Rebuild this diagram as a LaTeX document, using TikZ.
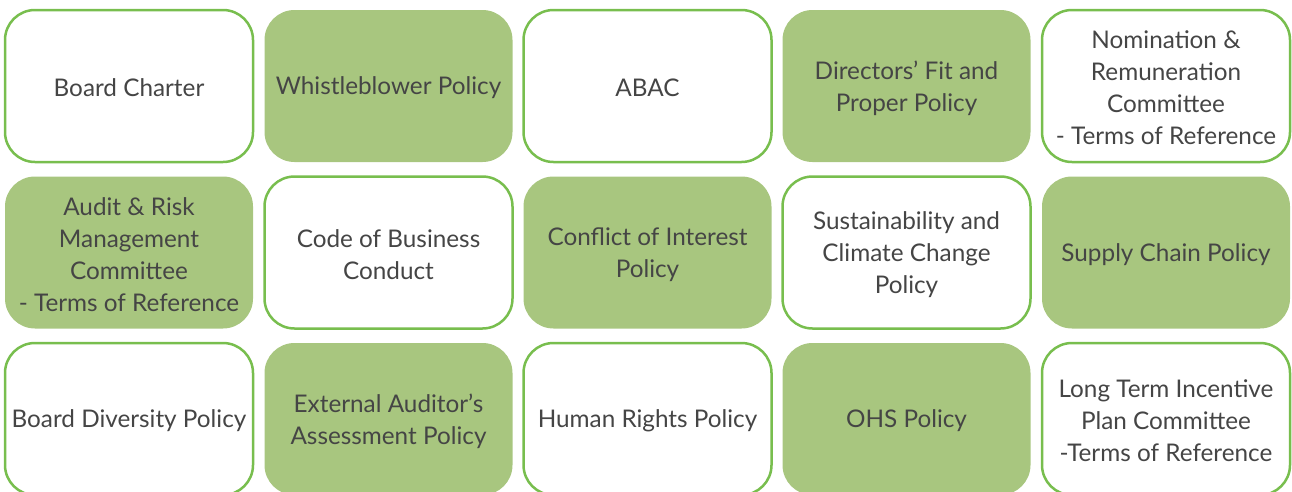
\documentclass[tikz,border=0pt]{standalone}
\usepackage{fontspec}
\setmainfont{Lato}
\definecolor{bordergreen}{HTML}{78BE4E}
\definecolor{fillgreen}{HTML}{A8C67F}
\definecolor{txt}{HTML}{454545}
\begin{document}
\begin{tikzpicture}[x=1pt,y=-1pt,
  cell/.style={rounded corners=30pt,minimum width=248pt,minimum height=152pt,inner sep=0pt,
    anchor=center},
  celltext/.style={align=center,text=txt,font=\fontsize{24.3}{32}\selectfont,inner sep=0pt,yshift=-2pt},
  wbox/.style={cell,draw=bordergreen,line width=2.5pt,fill=white},
  gbox/.style={cell,fill=fillgreen}]
\useasboundingbox (0,0) rectangle (1292,491);
\clip (0,0) rectangle (1292,491);
\node[wbox,label={[celltext]center:{Board Charter}}] (a1) at (129,86) {};
\node[gbox,label={[celltext]center:{Whistleblower Policy}}] (a2) at (388.5,86) {};
\node[wbox,label={[celltext]center:{ABAC}}] (a3) at (647.5,86) {};
\node[gbox,label={[celltext]center:{Directors’ Fit and\\Proper Policy}}] (a4) at (906.5,86) {};
\node[wbox,label={[celltext]center:{Nomination \&\\Remuneration\\Committee\\- Terms of Reference}}] (a5) at (1166,86) {};
\node[gbox,label={[celltext]center:{Audit \& Risk\\Management\\Committee\\- Terms of Reference}}] (b1) at (129,252.5) {};
\node[wbox,label={[celltext]center:{Code of Business\\Conduct}}] (b2) at (388.5,252.5) {};
\node[gbox,label={[celltext]center:{Conflict of Interest\\Policy}}] (b3) at (647.5,252.5) {};
\node[wbox,label={[celltext]center:{Sustainability and\\Climate Change\\Policy}}] (b4) at (906.5,252.5) {};
\node[gbox,label={[celltext]center:{Supply Chain Policy}}] (b5) at (1166,252.5) {};
\node[wbox,label={[celltext]center:{Board Diversity Policy}}] (c1) at (129,419) {};
\node[gbox,label={[celltext]center:{External Auditor’s\\Assessment Policy}}] (c2) at (388.5,419) {};
\node[wbox,label={[celltext]center:{Human Rights Policy}}] (c3) at (647.5,419) {};
\node[gbox,label={[celltext]center:{OHS Policy}}] (c4) at (906.5,419) {};
\node[wbox,label={[celltext]center:{Long Term Incentive\\Plan Committee\\-Terms of Reference}}] (c5) at (1166,419) {};
\end{tikzpicture}
\end{document}
